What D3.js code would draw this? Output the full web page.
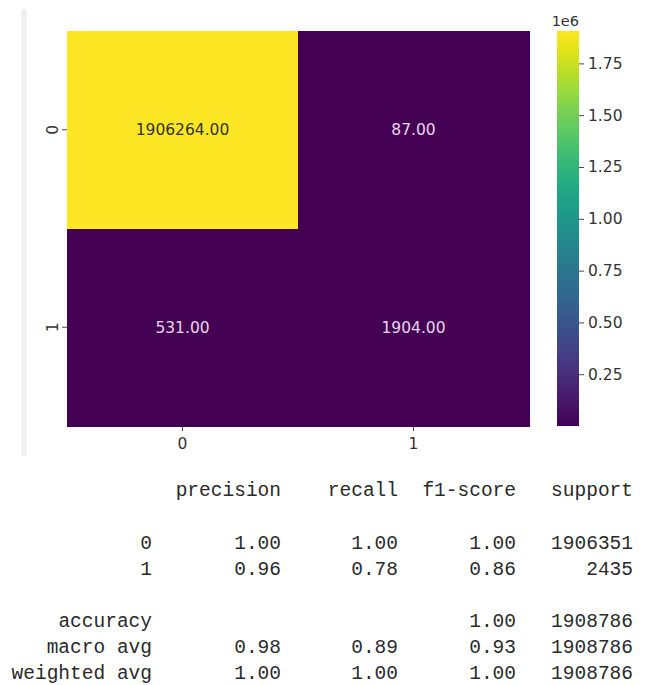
<!DOCTYPE html>
<html>
<head>
<meta charset="utf-8">
<script src="https://cdn.jsdelivr.net/npm/d3@7"></script>
<style>
  html, body { margin: 0; padding: 0; background: #fff; }
  svg { display: block; }
</style>
</head>
<body>
<svg id="chart" width="650" height="685"></svg>
<script>
// Confusion matrix counts (rows: true class, cols: predicted class)
const classLabels = ["0", "1"];
const matrixRow0 = [1906264, 87];
const matrixRow1 = [531, 1904];
const colorbarTicks = [250000, 500000, 750000, 1000000, 1250000, 1500000, 1750000];

// Classification report
const reportHeader = ["precision", "recall", "f1-score", "support"];
const reportRowNames = ["0", "1", "accuracy", "macro avg", "weighted avg"];
const reportPrecision = ["1.00", "0.96", "", "0.98", "1.00"];
const reportRecall = ["1.00", "0.78", "", "0.89", "1.00"];
const reportF1 = ["1.00", "0.86", "1.00", "0.93", "1.00"];
const reportSupport = ["1906351", "2435", "1908786", "1908786", "1908786"];

const svg = d3.select("#chart");
const font = "'DejaVu Sans', sans-serif";
const fs = 15.5;

// notebook output gutter
svg.append("rect").attr("x", 21).attr("y", 9).attr("width", 6).attr("height", 447)
  .attr("fill", "#f1f1f1");

const matrix = [matrixRow0, matrixRow1];
const cells = [];
matrix.forEach((row, i) => row.forEach((v, j) => cells.push({ r: i, c: j, v })));

const hm = { left: 67, top: 31, right: 529, bottom: 426 };
const x = d3.scaleBand().domain(classLabels).range([hm.left, hm.right]);
const y = d3.scaleBand().domain(classLabels).range([hm.top, hm.bottom]);
const vmin = d3.min(cells, d => d.v), vmax = d3.max(cells, d => d.v);
const color = d3.scaleSequential(d3.interpolateViridis).domain([vmin, vmax]);

svg.append("g").attr("shape-rendering", "crispEdges")
  .selectAll("rect").data(cells).join("rect")
  .attr("x", d => x(classLabels[d.c]))
  .attr("y", d => y(classLabels[d.r]))
  .attr("width", x.bandwidth() + 0.5)
  .attr("height", y.bandwidth() + 0.5)
  .attr("fill", d => color(d.v));

svg.append("g").selectAll("text").data(cells).join("text")
  .attr("x", d => x(classLabels[d.c]) + x.bandwidth() / 2)
  .attr("y", d => y(classLabels[d.r]) + y.bandwidth() / 2)
  .attr("dy", "0.36em")
  .attr("text-anchor", "middle")
  .attr("font-family", font)
  .attr("font-size", fs)
  .attr("fill", d => (d.v - vmin) / (vmax - vmin) > 0.6 ? "#33331f" : "#e8d6ec")
  .text(d => d.v.toFixed(2));

// axes
const xAxis = svg.append("g").attr("transform", `translate(0,${hm.bottom})`)
  .call(d3.axisBottom(x).tickSize(5).tickPadding(7));
const yAxis = svg.append("g").attr("transform", `translate(${hm.left},0)`)
  .call(d3.axisLeft(y).tickSize(5).tickPadding(5));
[xAxis, yAxis].forEach(g => {
  g.select(".domain").remove();
  g.selectAll("line").attr("stroke", "#333").attr("stroke-width", 0.9);
  g.selectAll("text").attr("font-family", font).attr("font-size", fs).attr("fill", "#333");
});
yAxis.selectAll(".tick text").each(function () {
  d3.select(this).attr("transform", "rotate(-90)")
    .attr("x", 0).attr("y", -9.5).attr("dy", 0).attr("text-anchor", "middle");
});

// colorbar
const cb = { left: 557, right: 579, top: 31, bottom: 426 };
const cbScale = d3.scaleLinear().domain([vmin, vmax]).range([cb.bottom, cb.top]);
const defs = svg.append("defs");
const grad = defs.append("linearGradient").attr("id", "vir")
  .attr("x1", 0).attr("y1", 1).attr("x2", 0).attr("y2", 0);
d3.range(0, 1.0001, 0.05).forEach(t => {
  grad.append("stop").attr("offset", t).attr("stop-color", d3.interpolateViridis(t));
});
svg.append("rect").attr("x", cb.left).attr("y", cb.top)
  .attr("width", cb.right - cb.left).attr("height", cb.bottom - cb.top)
  .attr("fill", "url(#vir)");
const cbAxis = svg.append("g").attr("transform", `translate(${cb.right},0)`)
  .call(d3.axisRight(cbScale).tickValues(colorbarTicks).tickSize(5).tickPadding(4)
    .tickFormat(v => (v / 1e6).toFixed(2)));
cbAxis.select(".domain").remove();
cbAxis.selectAll("line").attr("stroke", "#333").attr("stroke-width", 0.9);
cbAxis.selectAll("text").attr("font-family", font).attr("font-size", fs).attr("fill", "#333");
svg.append("text").attr("x", cb.right).attr("y", 26)
  .attr("text-anchor", "end").attr("font-family", font).attr("font-size", 14.5)
  .attr("fill", "#333").text("1e6");

// classification report text
const mono = "'Liberation Mono', 'DejaVu Sans Mono', monospace";
const colRight = [281, 398, 516, 633];
const labelRight = 152;
const rep = svg.append("g").attr("font-family", mono).attr("font-size", 19.5)
  .attr("fill", "#2a2a2a").attr("text-anchor", "end");
reportHeader.forEach((h, k) => {
  rep.append("text").attr("x", colRight[k]).attr("y", 496).text(h);
});
const rowBaseline = [549, 575, 627, 653, 679];
const cols = [reportPrecision, reportRecall, reportF1, reportSupport];
reportRowNames.forEach((name, i) => {
  rep.append("text").attr("x", labelRight).attr("y", rowBaseline[i]).text(name);
  cols.forEach((col, k) => {
    if (col[i] !== "") rep.append("text").attr("x", colRight[k]).attr("y", rowBaseline[i]).text(col[i]);
  });
});
</script>
</body>
</html>
